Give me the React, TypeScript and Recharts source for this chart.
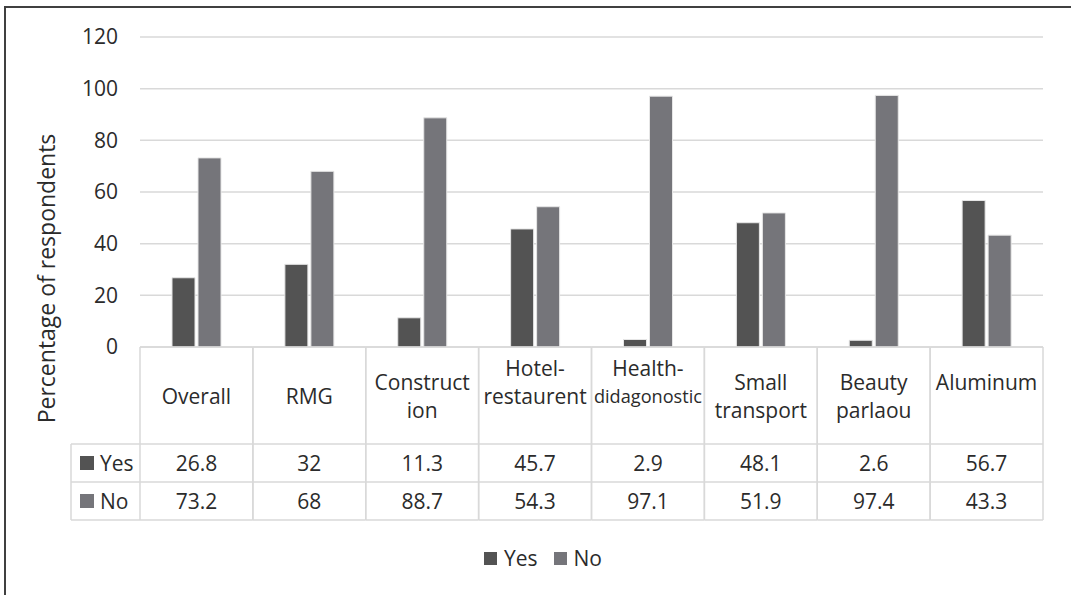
import { Bar, BarChart, CartesianGrid, Label, Legend, XAxis, YAxis } from "recharts";

const categories = [
  "Overall",
  "RMG",
  "Construction",
  "Hotel-restaurent",
  "Health-didagonostic",
  "Small transport",
  "Beauty parlaou",
  "Aluminum",
];
// how each category name wraps inside its table cell
const categoryLines = [
  ["Overall"],
  ["RMG"],
  ["Construct", "ion"],
  ["Hotel-", "restaurent", ""],
  ["Health-", "didagonostic", ""],
  ["Small", "transport"],
  ["Beauty", "parlaou"],
  ["Aluminum", ""],
];
const yesValues = [26.8, 32, 11.3, 45.7, 2.9, 48.1, 2.6, 56.7];
const noValues = [73.2, 68, 88.7, 54.3, 97.1, 51.9, 97.4, 43.3];
const yTicks = [0, 20, 40, 60, 80, 100, 120];
const seriesNames = ["Yes", "No"];
const seriesColors = ["#535353", "#75757a"];
const yTitle = "Percentage of respondents";

const W = 1071;
const H = 595;
const MARGIN = { top: 37, right: 28, left: 0, bottom: 51 };
const Y_AXIS_W = 140;
const X_AXIS_H = 173;
const CAT_H = 97;
const ROW_H = 38;
const LABEL_COL_W = 69;
const COL_W = (W - MARGIN.left - MARGIN.right - Y_AXIS_W) / categories.length;
const GRID = "#d9d9d9";
const TEXT = "#2b2b2b";
const FONT = "'Open Sans', sans-serif";

const data = categories.map((name, i) => ({
  name,
  [seriesNames[0]]: yesValues[i],
  [seriesNames[1]]: noValues[i],
}));

const rows = [yesValues, noValues];

const TableTick = (props: any) => {
  const { x, y, index } = props;
  const left = x - COL_W / 2;
  const lines = categoryLines[index];
  const lineH = 28;
  const mid = y + CAT_H / 2;
  return (
    <g>
      <line x1={left} x2={left} y1={y} y2={y + CAT_H + 2 * ROW_H} stroke={GRID} strokeWidth={1.5} />
      <line x1={left + COL_W} x2={left + COL_W} y1={y} y2={y + CAT_H + 2 * ROW_H} stroke={GRID} strokeWidth={1.5} />
      {[0, CAT_H, CAT_H + ROW_H, CAT_H + 2 * ROW_H].map((dy) => (
        <line key={dy} x1={left} x2={left + COL_W} y1={y + dy} y2={y + dy} stroke={GRID} strokeWidth={1.5} />
      ))}
      {lines.map((t, k) => {
        const squeeze = t.length > 10;
        return (
          <text
            key={k}
            x={x}
            y={mid + (k - (lines.length - 1) / 2) * lineH}
            textAnchor="middle"
            dominantBaseline="central"
            fontSize={squeeze ? 19 : 21}
            fill={TEXT}
            {...(squeeze ? { textLength: 108, lengthAdjust: "spacingAndGlyphs" } : {})}
          >
            {t}
          </text>
        );
      })}
      {rows.map((vals, r) => (
        <text
          key={r}
          x={x}
          y={y + CAT_H + ROW_H * r + ROW_H / 2}
          textAnchor="middle"
          dominantBaseline="central"
          fontSize={21}
          fill={TEXT}
        >
          {vals[index]}
        </text>
      ))}
      {index === 0 && (
        <g>
          <line x1={left - LABEL_COL_W} x2={left - LABEL_COL_W} y1={y + CAT_H} y2={y + CAT_H + 2 * ROW_H} stroke={GRID} strokeWidth={1.5} />
          {[CAT_H, CAT_H + ROW_H, CAT_H + 2 * ROW_H].map((dy) => (
            <line key={dy} x1={left - LABEL_COL_W} x2={left} y1={y + dy} y2={y + dy} stroke={GRID} strokeWidth={1.5} />
          ))}
          {seriesNames.map((s, r) => (
            <g key={s}>
              <rect
                x={left - LABEL_COL_W + 9}
                y={y + CAT_H + ROW_H * r + ROW_H / 2 - 7}
                width={14}
                height={14}
                fill={seriesColors[r]}
              />
              <text
                x={left - LABEL_COL_W + 29}
                y={y + CAT_H + ROW_H * r + ROW_H / 2}
                dominantBaseline="central"
                fontSize={21}
                fill={TEXT}
              >
                {s}
              </text>
            </g>
          ))}
        </g>
      )}
    </g>
  );
};

const LegendContent = (props: any) => {
  const payload = [...(props.payload || [])].sort(
    (a: any, b: any) => seriesNames.indexOf(a.value) - seriesNames.indexOf(b.value)
  );
  return (
    <div
      style={{
        display: "flex",
        justifyContent: "center",
        alignItems: "center",
        height: 24,
        fontFamily: FONT,
        fontSize: 21,
        color: TEXT,
        gap: 16,
      }}
    >
      {payload.map((p: any) => (
        <div key={p.value} style={{ display: "flex", alignItems: "center", gap: 7 }}>
          <span style={{ width: 13, height: 13, background: p.color, display: "inline-block" }} />
          <span>{p.value}</span>
        </div>
      ))}
    </div>
  );
};

export default function App() {
  return (
    <div
      style={{
        position: "absolute",
        left: 0,
        top: 0,
        width: W,
        height: H,
        background: "#fff",
        fontFamily: FONT,
      }}
    >
      <div
        style={{
          position: "absolute",
          left: 4,
          top: 6,
          right: 0,
          bottom: 0,
          borderLeft: "2px solid #404040",
          borderTop: "2px solid #404040",
        }}
      />
      <BarChart width={W} height={H} data={data} margin={MARGIN} barSize={23} barGap={3}>
        <CartesianGrid vertical={false} stroke={GRID} strokeWidth={1.5} />
        <XAxis
          dataKey="name"
          height={X_AXIS_H}
          axisLine={false}
          tickLine={false}
          tickSize={0}
          tickMargin={0}
          interval={0}
          tick={<TableTick />}
        />
        <YAxis
          width={Y_AXIS_W}
          domain={[0, 120]}
          ticks={yTicks}
          axisLine={false}
          tickLine={false}
          tickSize={0}
          tickMargin={22}
          tick={{ fontSize: 21, fill: TEXT }}
        >
          <Label
            content={(p: any) => {
              const vb = p.viewBox || { x: 0, y: 0, height: 0 };
              const cx = 46;
              const cy = vb.y + (vb.height + X_AXIS_H) / 2;
              return (
                <text
                  x={cx}
                  y={cy}
                  transform={`rotate(-90 ${cx} ${cy})`}
                  textAnchor="middle"
                  dominantBaseline="central"
                  fontSize={23}
                  fill={TEXT}
                >
                  {yTitle}
                </text>
              );
            }}
          />
        </YAxis>
        <Legend
          verticalAlign="bottom"
          content={<LegendContent />}
          wrapperStyle={{ top: 546, bottom: "auto", left: 15, width: 1056, height: 24 }}
        />
        {seriesNames.map((s, i) => (
          <Bar
            key={s}
            dataKey={s}
            fill={seriesColors[i]}
            stroke="#e6e6e6"
            strokeWidth={1}
            isAnimationActive={false}
          />
        ))}
      </BarChart>
    </div>
  );
}
